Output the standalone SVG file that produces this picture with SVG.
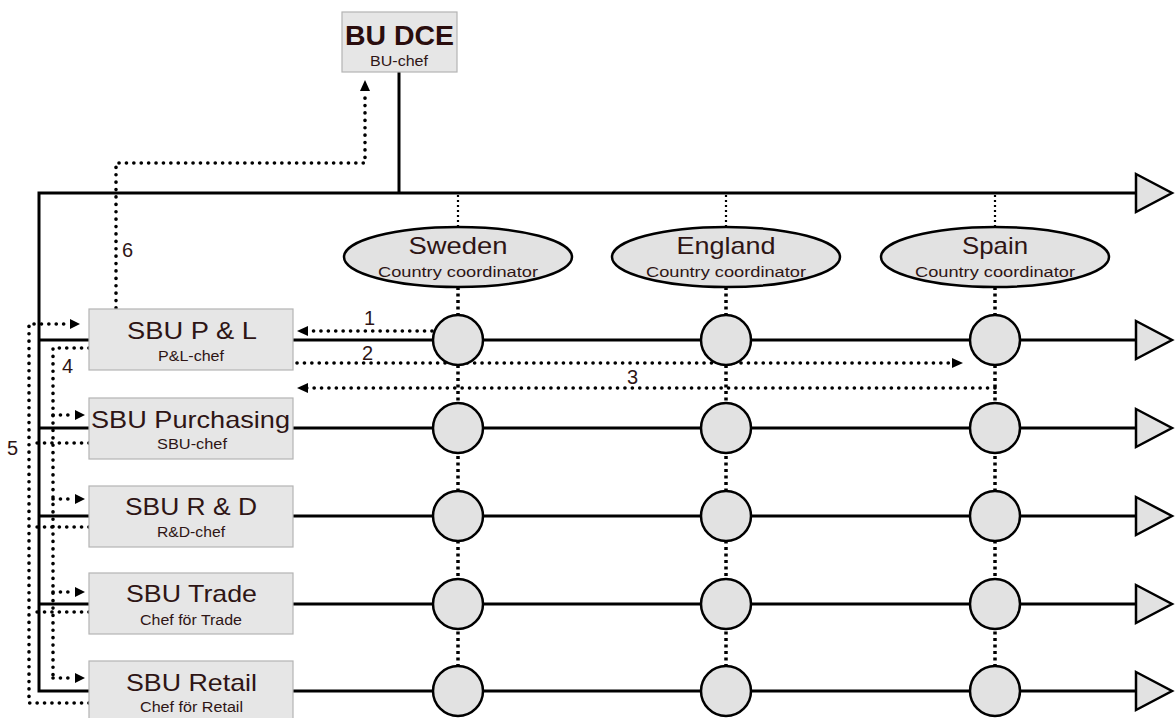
<svg xmlns="http://www.w3.org/2000/svg" width="1175" height="718" viewBox="0 0 1175 718">
<style>
.box{fill:#e6e6e6;stroke:#b4b4b4;stroke-width:1.2}
.node{fill:#e2e2e2;stroke:#000;stroke-width:2.5}
.solid{stroke:#000;stroke-width:3;fill:none}
.dot{stroke:#000;stroke-width:3.6;fill:none;stroke-dasharray:0.1 7.3;stroke-linecap:round}
.vdot{stroke:#000;stroke-width:3.5;fill:none;stroke-dasharray:3 3.5}
.tdot{stroke:#000;stroke-width:2.2;fill:none;stroke-dasharray:2 3}
.big{font-family:"Liberation Sans",Arial,sans-serif;font-size:24px;fill:#2e1515;text-anchor:middle}
.small{font-family:"Liberation Sans",Arial,sans-serif;font-size:14px;fill:#2e1515;text-anchor:middle}
.num{font-family:"Liberation Sans",Arial,sans-serif;font-size:20px;fill:#2e1515}
.tri{fill:#e2e2e2;stroke:#000;stroke-width:2.5;stroke-linejoin:miter}
.ah{fill:#000}
</style>

<g id="connectors">
<line class="solid" x1="399" y1="72" x2="399" y2="193"/>
<polyline class="solid" points="1136,193 39,193 39,691 89,691"/>
<polygon class="tri" points="1136,174 1172,193 1136,212"/>
<line class="solid" x1="39" y1="340" x2="89" y2="340"/>
<line class="solid" x1="39" y1="428" x2="89" y2="428"/>
<line class="solid" x1="39" y1="516" x2="89" y2="516"/>
<line class="solid" x1="39" y1="604" x2="89" y2="604"/>
<line class="solid" x1="293" y1="340" x2="1136" y2="340"/>
<line class="solid" x1="293" y1="428" x2="1136" y2="428"/>
<line class="solid" x1="293" y1="516" x2="1136" y2="516"/>
<line class="solid" x1="293" y1="604" x2="1136" y2="604"/>
<line class="solid" x1="293" y1="691" x2="1136" y2="691"/>
<polygon class="tri" points="1136,321 1172,340 1136,359"/>
<polygon class="tri" points="1136,409 1172,428 1136,447"/>
<polygon class="tri" points="1136,497 1172,516 1136,535"/>
<polygon class="tri" points="1136,585 1172,604 1136,623"/>
<polygon class="tri" points="1136,672 1172,691 1136,710"/>
<line class="tdot" x1="458" y1="195" x2="458" y2="227"/>
<line class="tdot" x1="726" y1="195" x2="726" y2="227"/>
<line class="tdot" x1="995" y1="195" x2="995" y2="227"/>
<line class="vdot" x1="458" y1="287" x2="458" y2="668"/>
<line class="vdot" x1="726" y1="287" x2="726" y2="668"/>
<line class="vdot" x1="995" y1="287" x2="995" y2="668"/>
<polyline class="dot" points="116,308 116,163 365,163 365,92"/>
<path class="ah" d="M360,91 L365,80 L370,91 Z"/>
<line class="dot" x1="432" y1="331" x2="305" y2="331"/>
<path class="ah" d="M308,326 L297,331 L308,336 Z"/>
<line class="dot" x1="297" y1="363" x2="952" y2="363"/>
<path class="ah" d="M952,358 L963,363 L952,368 Z"/>
<line class="dot" x1="995" y1="388" x2="305" y2="388"/>
<path class="ah" d="M308,383 L297,388 L308,393 Z"/>
<polyline class="dot" points="89,348 53,348 53,678"/>
<line class="dot" x1="53" y1="415" x2="74" y2="415"/>
<line class="dot" x1="53" y1="499" x2="74" y2="499"/>
<line class="dot" x1="53" y1="592" x2="74" y2="592"/>
<line class="dot" x1="53" y1="678" x2="74" y2="678"/>
<path class="ah" d="M75,410 L85,415 L75,420 Z"/>
<path class="ah" d="M75,494 L85,499 L75,504 Z"/>
<path class="ah" d="M75,587 L85,592 L75,597 Z"/>
<path class="ah" d="M75,673 L85,678 L75,683 Z"/>
<polyline class="dot" points="89,703 29,703 29,324 70,324"/>
<line class="dot" x1="89" y1="443" x2="31" y2="443"/>
<line class="dot" x1="89" y1="527" x2="31" y2="527"/>
<line class="dot" x1="89" y1="612" x2="31" y2="612"/>
<path class="ah" d="M70,319 L80,324 L70,329 Z"/>
<text class="num" x="364" y="325">1</text>
<text class="num" x="362" y="360">2</text>
<text class="num" x="627" y="384">3</text>
<text class="num" x="62" y="373">4</text>
<text class="num" x="7" y="455">5</text>
<text class="num" x="122" y="257">6</text>
</g>

<g id="bu-dce">
<rect class="box" x="342" y="12" width="115" height="60"/>
<text x="399.5" y="45" font-family="'Liberation Sans',Arial,sans-serif" font-size="28" font-weight="bold" fill="#2a0d0d" text-anchor="middle" textLength="109" lengthAdjust="spacingAndGlyphs">BU DCE</text>
<text class="small" x="399" y="66" textLength="58" lengthAdjust="spacingAndGlyphs">BU-chef</text>
</g>

<g id="sweden">
<ellipse class="node" cx="458" cy="257" rx="114" ry="30"/>
<text class="big" x="458" y="254" textLength="99" lengthAdjust="spacingAndGlyphs">Sweden</text>
<text class="small" x="458" y="277" font-size="16" textLength="160" lengthAdjust="spacingAndGlyphs">Country coordinator</text>
</g>
<g id="england">
<ellipse class="node" cx="726" cy="257" rx="114" ry="30"/>
<text class="big" x="726" y="254" textLength="99" lengthAdjust="spacingAndGlyphs">England</text>
<text class="small" x="726" y="277" font-size="16" textLength="160" lengthAdjust="spacingAndGlyphs">Country coordinator</text>
</g>
<g id="spain">
<ellipse class="node" cx="995" cy="257" rx="114" ry="30"/>
<text class="big" x="995" y="254" textLength="66" lengthAdjust="spacingAndGlyphs">Spain</text>
<text class="small" x="995" y="277" font-size="16" textLength="160" lengthAdjust="spacingAndGlyphs">Country coordinator</text>
</g>

<g id="sbu-pl">
<rect class="box" x="89" y="309" width="204" height="61"/>
<text class="big" x="192" y="339" textLength="130" lengthAdjust="spacingAndGlyphs">SBU P &amp; L</text>
<text class="small" x="191" y="361" textLength="66" lengthAdjust="spacingAndGlyphs">P&amp;L-chef</text>
</g>
<g id="sbu-purchasing">
<rect class="box" x="89" y="398" width="204" height="61"/>
<text class="big" x="190.5" y="428" textLength="199" lengthAdjust="spacingAndGlyphs">SBU Purchasing</text>
<text class="small" x="192" y="449" textLength="70" lengthAdjust="spacingAndGlyphs">SBU-chef</text>
</g>
<g id="sbu-rd">
<rect class="box" x="89" y="486" width="204" height="61"/>
<text class="big" x="191" y="515" textLength="132" lengthAdjust="spacingAndGlyphs">SBU R &amp; D</text>
<text class="small" x="191" y="537" textLength="68" lengthAdjust="spacingAndGlyphs">R&amp;D-chef</text>
</g>
<g id="sbu-trade">
<rect class="box" x="89" y="573" width="204" height="61"/>
<text class="big" x="191.5" y="602" textLength="131" lengthAdjust="spacingAndGlyphs">SBU Trade</text>
<text class="small" x="191" y="625" textLength="102" lengthAdjust="spacingAndGlyphs">Chef för Trade</text>
</g>
<g id="sbu-retail">
<rect class="box" x="89" y="661" width="204" height="61"/>
<text class="big" x="191.5" y="691" textLength="131" lengthAdjust="spacingAndGlyphs">SBU Retail</text>
<text class="small" x="191.5" y="712" textLength="103" lengthAdjust="spacingAndGlyphs">Chef för Retail</text>
</g>

<g id="hubs">
<circle class="node" cx="458" cy="340" r="25"/>
<circle class="node" cx="726" cy="340" r="25"/>
<circle class="node" cx="995" cy="340" r="25"/>
<circle class="node" cx="458" cy="428" r="25"/>
<circle class="node" cx="726" cy="428" r="25"/>
<circle class="node" cx="995" cy="428" r="25"/>
<circle class="node" cx="458" cy="516" r="25"/>
<circle class="node" cx="726" cy="516" r="25"/>
<circle class="node" cx="995" cy="516" r="25"/>
<circle class="node" cx="458" cy="604" r="25"/>
<circle class="node" cx="726" cy="604" r="25"/>
<circle class="node" cx="995" cy="604" r="25"/>
<circle class="node" cx="458" cy="691" r="25"/>
<circle class="node" cx="726" cy="691" r="25"/>
<circle class="node" cx="995" cy="691" r="25"/>
</g>
</svg>
